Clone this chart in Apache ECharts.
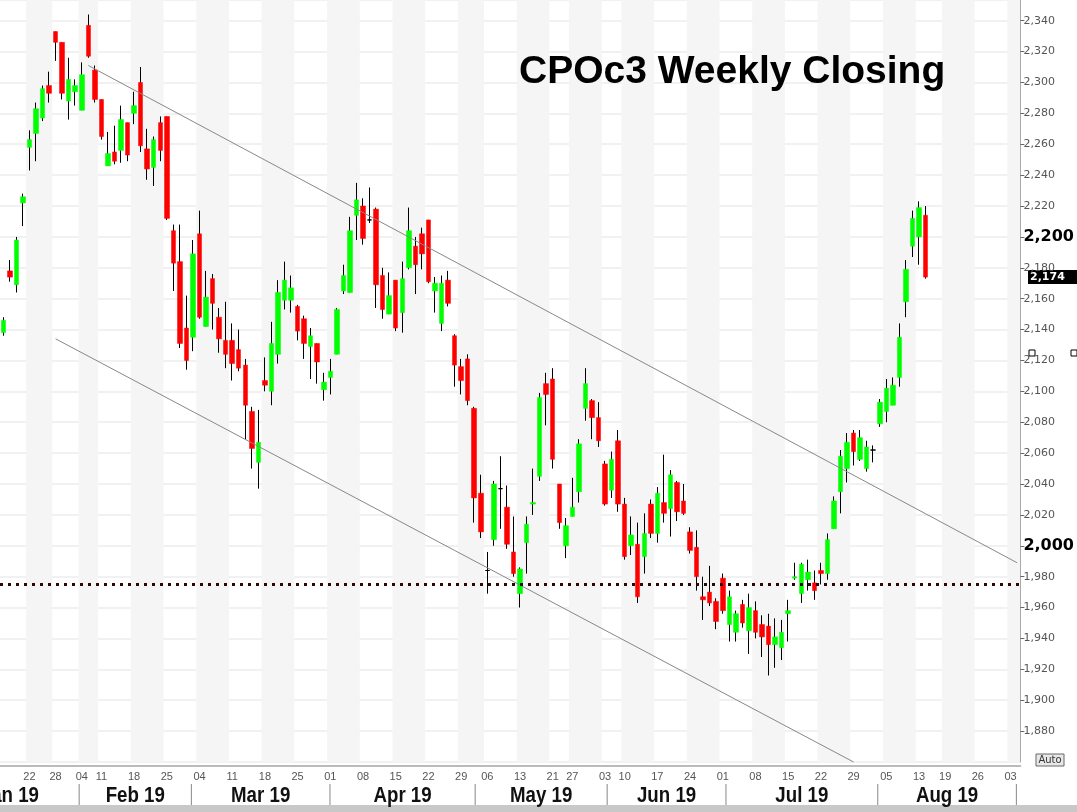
<!DOCTYPE html>
<html><head><meta charset="utf-8">
<script src="https://cdn.jsdelivr.net/npm/echarts@6/dist/echarts.min.js"></script>
<style>html,body{margin:0;padding:0;background:#fff}#c{width:1077px;height:812px}</style>
</head><body><div id="c"></div>
<script>
const dates = [
"2019-01-15","2019-01-16","2019-01-17","2019-01-18",
"2019-01-22","2019-01-23","2019-01-24","2019-01-25",
"2019-01-28","2019-01-29","2019-01-30","2019-01-31",
"2019-02-04","2019-02-07","2019-02-08",
"2019-02-11","2019-02-12","2019-02-13","2019-02-14","2019-02-15",
"2019-02-18","2019-02-19","2019-02-20","2019-02-21","2019-02-22",
"2019-02-25","2019-02-26","2019-02-27","2019-02-28","2019-03-01",
"2019-03-04","2019-03-05","2019-03-06","2019-03-07","2019-03-08",
"2019-03-11","2019-03-12","2019-03-13","2019-03-14","2019-03-15",
"2019-03-18","2019-03-19","2019-03-20","2019-03-21","2019-03-22",
"2019-03-25","2019-03-26","2019-03-27","2019-03-28","2019-03-29",
"2019-04-01","2019-04-02","2019-04-03","2019-04-04","2019-04-05",
"2019-04-08","2019-04-09","2019-04-10","2019-04-11","2019-04-12",
"2019-04-15","2019-04-16","2019-04-17","2019-04-18","2019-04-19",
"2019-04-22","2019-04-23","2019-04-24","2019-04-25","2019-04-26",
"2019-04-29","2019-04-30","2019-05-02","2019-05-03",
"2019-05-06","2019-05-07","2019-05-08","2019-05-09","2019-05-10",
"2019-05-13","2019-05-14","2019-05-15","2019-05-16","2019-05-17",
"2019-05-21","2019-05-23","2019-05-24",
"2019-05-27","2019-05-28","2019-05-29","2019-05-30","2019-05-31",
"2019-06-03","2019-06-04","2019-06-07",
"2019-06-10","2019-06-11","2019-06-12","2019-06-13","2019-06-14",
"2019-06-17","2019-06-18","2019-06-19","2019-06-20","2019-06-21",
"2019-06-24","2019-06-25","2019-06-26","2019-06-27","2019-06-28",
"2019-07-01","2019-07-02","2019-07-03","2019-07-04","2019-07-05",
"2019-07-08","2019-07-09","2019-07-10","2019-07-11","2019-07-12",
"2019-07-15","2019-07-16","2019-07-17","2019-07-18","2019-07-19",
"2019-07-22","2019-07-23","2019-07-24","2019-07-25","2019-07-26",
"2019-07-29","2019-07-30","2019-07-31","2019-08-01","2019-08-02",
"2019-08-05","2019-08-06","2019-08-07","2019-08-08","2019-08-09",
"2019-08-13","2019-08-14","2019-08-15","2019-08-16",
"2019-08-19","2019-08-20","2019-08-21","2019-08-22","2019-08-23",
"2019-08-26","2019-08-27","2019-08-28","2019-08-29","2019-08-30",
"2019-09-03","2019-09-04"];

const opens = [2138,2178,2169,2222,2258,2267,2277,2298,2333,2326,2288,2294,2282,2337,2308,2289,2246,2255,2256,2274,
2280,2300,2257,2245,2274,2278,2204,2184,2141,2135,2202,2142,2173,2148,2133,2133,2127,2117,2087,2054,
2107,2100,2124,2159,2159,2155,2147,2129,2131,2101,2109,2124,2165,2164,2214,2220,2211,2218,2175,2150,
2172,2151,2180,2194,2202,2211,2165,2144,2172,2136,2116,2121,2089,2034,1984,2004,2037,2025,1996,1969,
2002,2027,2045,2105,2108,2040,2000,2019,2035,2089,2094,2083,2053,2036,2068,2027,2000,2001,1993,2027,
2008,2028,2024,2041,2029,2009,1999,1967,1970,1964,1979,1949,1944,1962,1945,1958,1949,1948,1936,1934,
1956,1979,1969,1978,1976,1984,1982,2011,2035,2050,2073,2056,2050,2062,2079,2087,2091,2109,2158,2194,
2200,2214];
const closes = [2146,2174,2198,2226,2263,2283,2296,2293,2326,2293,2302,2298,2305,2317,2289,2265,2254,2249,2276,2253,
2285,2259,2244,2263,2256,2212,2183,2131,2120,2189,2148,2161,2157,2134,2124,2118,2115,2091,2063,2067,
2104,2131,2164,2172,2167,2139,2131,2136,2119,2106,2113,2153,2175,2204,2224,2199,2211,2169,2153,2162,
2141,2173,2204,2182,2189,2171,2170,2170,2157,2117,2107,2094,2031,2009,1984,2040,2037,2001,1982,1985,
2014,2028,2096,2098,2056,2015,2013,2025,2066,2105,2083,2068,2027,2056,2027,1993,2007,1967,2008,2008,
2034,2021,2046,2022,2021,1997,1980,1965,1963,1951,1958,1967,1956,1950,1960,1944,1941,1936,1941,1944,
1958,1980,1988,1983,1971,1982,2004,2029,2058,2067,2061,2070,2064,2062,2093,2102,2104,2135,2179,2212,
2219,2174];
const lows = [2136,2171,2164,2207,2243,2249,2275,2287,2314,2289,2276,2285,2282,2316,2287,2263,2246,2247,2248,2249,
2273,2255,2237,2233,2249,2211,2165,2128,2114,2126,2147,2142,2140,2125,2115,2107,2113,2069,2050,2037,
2100,2091,2118,2153,2151,2133,2121,2108,2105,2094,2098,2124,2163,2164,2198,2195,2209,2154,2147,2150,
2139,2138,2179,2163,2179,2170,2151,2139,2155,2103,2098,2091,2015,2005,1969,2000,2011,1998,1980,1960,
1982,2020,2042,2078,2050,2011,1992,2019,2028,2081,2069,2064,2026,2031,2022,1991,1994,1963,1982,2005,
2002,2015,2006,2016,2020,1995,1971,1952,1961,1946,1956,1938,1938,1947,1930,1940,1928,1916,1921,1926,
1938,1978,1963,1971,1965,1975,1978,2011,2021,2041,2052,2055,2048,2054,2077,2080,2091,2103,2148,2187,
2182,2173];
const highs = [2148,2185,2200,2228,2269,2287,2298,2307,2333,2326,2316,2302,2313,2344,2311,2289,2268,2272,2285,2274,
2294,2310,2270,2265,2278,2278,2208,2208,2162,2198,2217,2178,2176,2154,2158,2144,2140,2121,2090,2088,
2122,2145,2172,2184,2175,2156,2149,2141,2131,2112,2121,2154,2182,2213,2235,2225,2232,2219,2180,2177,
2172,2184,2219,2200,2206,2211,2174,2175,2178,2137,2121,2124,2090,2046,1996,2042,2058,2039,2019,1986,
2019,2050,2099,2112,2115,2040,2018,2044,2069,2115,2095,2093,2055,2061,2075,2031,2019,2015,2021,2030,
2038,2059,2049,2042,2040,2012,2010,1980,1987,1966,1982,1971,1958,1965,1969,1964,1955,1956,1953,1952,
1965,1989,1989,1991,1984,1989,2008,2032,2062,2073,2075,2075,2068,2065,2095,2108,2109,2144,2185,2217,
2223,2220];

const weekStarts = [0,4,8,12,15,20,25,30,35,40,45,50,55,60,65,70,74,79,84,87,92,95,100,105,110,115,120,125,130,135,140,144,149,154];
const monthStarts = [-9,12,29,50,72,92,110,133,154];
const monthNames = ["Jan 19","Feb 19","Mar 19","Apr 19","May 19","Jun 19","Jul 19","Aug 19"];
const supportLevel = 1975;
const upperTrend = [[13,2311],[155,1989]];
const lowerTrend = [[8,2134],[130,1860]];
const lastClose = 2174;

const isWeek = i => weekStarts.indexOf(i) >= 0;
const wickData = opens.map((o,i)=>[o,closes[i],lows[i],highs[i]]);
const bodyData = opens.map((o,i)=>{
  const c = closes[i];
  const item = {value:[o,c,Math.min(o,c),Math.max(o,c)]};
  if (o === c) item.itemStyle = {borderColor:'#000', borderColor0:'#000', color:'#000', color0:'#000', borderWidth:1};
  return item;
});
const fmt = v => String(v).replace(/\B(?=(\d{3})+(?!\d))/g, ',');

const chart = echarts.init(document.getElementById('c'));
chart.setOption({
  animation:false,
  backgroundColor:'#fff',
  grid:{left:-3.3, width:1029.6, top:0, bottom:50},
  xAxis:{type:'category', data:dates, boundaryGap:true, offset:4,
    axisLine:{lineStyle:{color:'#bbb', width:2}},
    axisTick:{interval:(i)=>isWeek(i), length:5, lineStyle:{color:'#888'}},
    axisLabel:{interval:(i)=>isWeek(i) && i>0, formatter:v=>v.slice(8), color:'#555', fontSize:11,
      fontFamily:'Liberation Sans', margin:5},
    splitLine:{show:false},
    splitArea:{show:true, interval:(i)=>isWeek(i), areaStyle:{color:['rgba(255,255,255,0)','#f5f5f5']}}
  },
  yAxis:{type:'value', position:'right', min:1860, max:2353.4, interval:20,
    axisLine:{show:true, lineStyle:{color:'#aaa'}},
    axisTick:{show:true, length:4, lineStyle:{color:'#666'}},
    splitLine:{lineStyle:{color:'#ececec', width:1.5}},
    axisLabel:{color:'#555', fontSize:11, fontFamily:'DejaVu Sans', margin:3, showMaxLabel:false, showMinLabel:false,
      formatter:v=> (v===2200||v===2000) ? '{b|'+fmt(v)+'}' : (v%20!==0||v===1860?'':fmt(v)),
      rich:{b:{fontSize:16, fontWeight:'bold', color:'#000', fontFamily:'DejaVu Sans'}}}
  },
  series:[
    {type:'candlestick', data:wickData, barWidth:1, z:2,
      itemStyle:{color:'#000', color0:'#000', borderColor:'#000', borderColor0:'#000', borderWidth:1},
      markLine:{silent:true, symbol:'none', label:{show:false},
        data:[
          [{coord:upperTrend[0]},{coord:upperTrend[1]}],
          [{coord:lowerTrend[0]},{coord:lowerTrend[1]}]
        ],
        lineStyle:{color:'#888', width:1, type:'solid'}}
    },
    {type:'candlestick', data:bodyData, barWidth:5, z:3,
      itemStyle:{color:'#00ff00', color0:'#ff0000', borderColor:'#00ff00', borderColor0:'#ff0000', borderWidth:0.5},
      markLine:{silent:true, symbol:'none', label:{show:false},
        data:[{yAxis:supportLevel}],
        lineStyle:{color:'#2a0808', width:3, type:[3,5]}}
    }
  ]
});

const px = i => chart.convertToPixel({xAxisIndex:0}, i);
const py = v => chart.convertToPixel({yAxisIndex:0}, v);
const band = 6.6;
const g = [];
g.push({type:'rect', shape:{x:0,y:805,width:1077,height:7}, style:{fill:'#c8c8c8'}});
const sepX = monthStarts.map(i => px(0) + i*band - band/2);
for (let k=1;k<sepX.length;k++){
  g.push({type:'line', shape:{x1:sepX[k],y1:784,x2:sepX[k],y2:805}, style:{stroke:'#888', lineWidth:1}});
}
for (let k=0;k<monthNames.length;k++){
  g.push({type:'text', x:(sepX[k]+sepX[k+1])/2, y:796, scaleX:0.85, style:{text:monthNames[k], fill:'#111',
    font:'bold 22px "Liberation Sans"', align:'center', verticalAlign:'middle'}});
}
g.push({type:'text', x:519, y:72, style:{text:'CPOc3 Weekly Closing', fill:'#000',
  font:'bold 39px "Liberation Sans"', align:'left', verticalAlign:'middle'}});
const ly = py(lastClose);
g.push({type:'rect', shape:{x:1028,y:ly-7,width:49,height:14}, style:{fill:'#000'}});
g.push({type:'text', x:1030, y:ly, style:{text:fmt(lastClose), fill:'#fff', font:'bold 11px "DejaVu Sans"', verticalAlign:'middle'}});
g.push({type:'rect', shape:{x:1029,y:350,width:6,height:6}, style:{fill:'#fff', stroke:'#000', lineWidth:1}});
g.push({type:'rect', shape:{x:1071,y:350,width:6,height:6}, style:{fill:'#fff', stroke:'#000', lineWidth:1}});
g.push({type:'rect', shape:{x:1036,y:754,width:28,height:12}, style:{fill:'#e8e8e8', stroke:'#666', lineWidth:1}});
g.push({type:'text', x:1050, y:760, style:{text:'Auto', fill:'#333', font:'10px "DejaVu Sans"', align:'center', verticalAlign:'middle'}});
chart.setOption({graphic:g});
</script>
</body></html>
